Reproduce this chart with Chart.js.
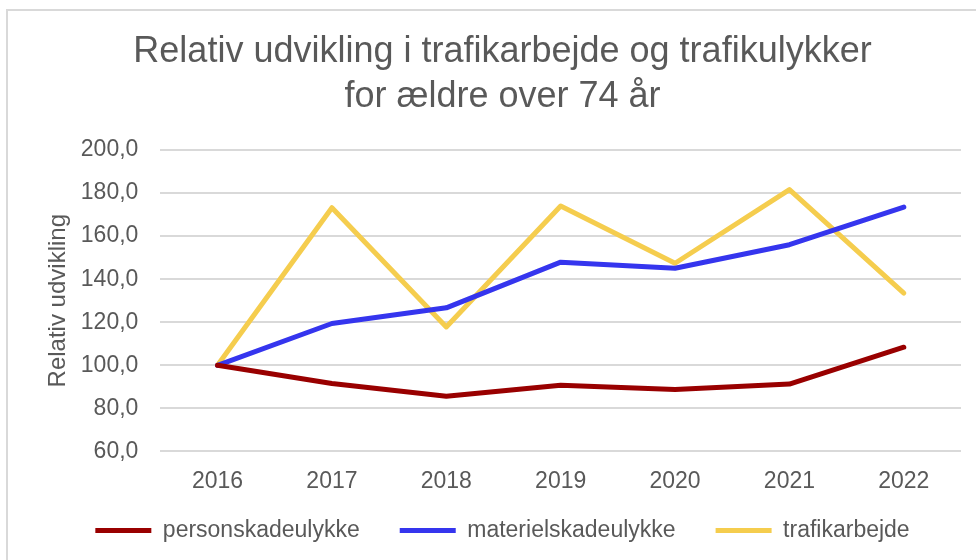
<!DOCTYPE html>
<html>
<head>
<meta charset="utf-8">
<script src="https://cdn.jsdelivr.net/npm/chart.js@4"></script>
<style>
  html, body { margin:0; padding:0; background:#fff; overflow:hidden; }
  #frame { position:absolute; left:6px; top:9px; width:990px; height:570px; border-left:2px solid #d9d9d9; border-top:2px solid #d9d9d9; }
  #wrap { position:absolute; left:0; top:0; width:976px; height:560px; }
</style>
</head>
<body>
<div id="frame"></div>
<div id="wrap"><canvas id="chart"></canvas></div>
<script>
/* ── data ── */
const YEARS = ['2016','2017','2018','2019','2020','2021','2022'];
const PERSONSKADE = [100, 91.5, 85.6, 90.7, 88.7, 91.3, 108.4];
const MATERIEL    = [100, 119.4, 126.7, 147.9, 145.1, 156.0, 173.5];
const TRAFIK      = [100, 173.2, 117.8, 174.0, 147.4, 181.6, 133.5];
const Y_MIN = 60, Y_MAX = 200, Y_STEP = 20;

const TXT = '#595959';
const FONT = 'Liberation Sans, Arial, sans-serif';

function line(label, data, color) {
  return { label, data, borderColor:color, backgroundColor:color, borderWidth:5,
           borderCapStyle:'round', borderJoinStyle:'round', pointRadius:0, tension:0, fill:false };
}

const ctx = document.getElementById('chart').getContext('2d');
new Chart(ctx, {
  type:'line',
  data:{
    labels: YEARS,
    datasets:[
      line('personskadeulykke', PERSONSKADE, '#990000'),
      line('materielskadeulykke', MATERIEL, '#3535ee'),
      line('trafikarbejde', TRAFIK, '#f5cd4e'),
    ]
  },
  options:{
    responsive:true, maintainAspectRatio:false, animation:false,
    layout:{ padding:{ left:44, right:15, top:10, bottom:8 } },
    plugins:{
      title:{ display:true, text:['Relativ udvikling i trafikarbejde og trafikulykker','for ældre over 74 år'],
              color:TXT, font:{family:FONT, size:36, weight:'normal', lineHeight:1.25}, padding:{top:20, bottom:30} },
      legend:{ display:true, position:'bottom',
               labels:{ color:TXT, font:{family:FONT, size:23}, usePointStyle:true, pointStyle:'line',
                        pointStyleWidth:56, boxHeight:5, padding:40 } },
      tooltip:{ enabled:false }
    },
    scales:{
      x:{ offset:true, grid:{ display:false, drawTicks:false }, border:{ display:false },
          ticks:{ color:TXT, font:{family:FONT, size:23}, padding:16 },
          // shrink the axis box so the legend sits close, but keep the year labels unclipped
          afterFit:s=>{ s.height -= 32; s._computeLabelArea = () => undefined; } },
      y:{ min:Y_MIN, max:Y_MAX,
          grid:{ color:'#d9d9d9', lineWidth:2, drawTicks:false }, border:{ display:false },
          ticks:{ stepSize:Y_STEP, color:TXT, font:{family:FONT, size:23}, padding:22,
                  callback:v=>v.toFixed(1).replace('.', ',') },
          title:{ display:true, text:'Relativ udvikling', color:TXT, font:{family:FONT, size:24}, padding:{top:0, bottom:8} },
          afterFit:s=>{ s.width -= 22; } }
    }
  }
});
</script>
</body>
</html>
